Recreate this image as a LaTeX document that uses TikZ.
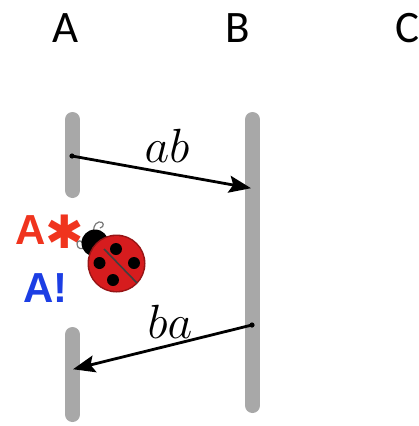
\documentclass[tikz,border=0pt]{standalone}
\usepackage{fix-cm}
\usepackage{fontspec}
\setmainfont{Carlito}
\newfontfamily\boldsans{Liberation Sans}
\newfontfamily\dingfont{DejaVu Sans}
\usetikzlibrary{arrows.meta}
\definecolor{bargray}{RGB}{168,168,168}
\definecolor{tagred}{RGB}{240,52,30}
\definecolor{tagblue}{RGB}{28,62,228}
\definecolor{bugred}{RGB}{214,28,30}
\definecolor{curlgray}{RGB}{120,120,120}
\tikzset{
  lifeline/.style={line width=15pt, line cap=round, draw=bargray},
  party/.style={font=\fontsize{45}{45}\selectfont, anchor=base},
  msg/.style={line width=2.8pt, -{Stealth[length=22pt,width=17pt,inset=4pt]}, shorten >=-1pt},
  msglabel/.style={font=\fontsize{48}{48}\selectfont, anchor=base},
  tag/.style={font=\fontsize{42}{42}\selectfont\boldsans\bfseries, inner sep=0pt, anchor=base west},
  spot/.style={fill=black},
}
\begin{document}
\begin{tikzpicture}[x=1pt,y=-1pt]
  \useasboundingbox (0,0) rectangle (418,426);
  \fill[white] (0,0) rectangle (418,426);

  % party names
  \node[party] (nA) at (66,42) {A};
  \node[party] (nB) at (238,42) {B};
  \node[party, anchor=base west] (nC) at (392,42) {C};

  % lifelines
  \draw[lifeline] (72.5,119.5) coordinate (a1top) -- (72.5,190.5) coordinate (a1bot);
  \draw[lifeline] (252.5,119.5) coordinate (btop) -- (252.5,405.5) coordinate (bbot);
  \draw[lifeline] (72.5,334.5) coordinate (a2top) -- (72.5,414.5) coordinate (a2bot);

  % message end points on the lifelines
  \coordinate (abfrom) at (72,156);
  \coordinate (abto) at (250,188);
  \coordinate (bafrom) at (252,325);
  \coordinate (bato) at (74,369);

  % messages
  \fill (abfrom) circle (2.6pt);
  \draw[msg] (abfrom) -- (abto);
  \node[msglabel] (lab) at (167,162) {$ab$};
  \fill (bafrom) circle (2.6pt);
  \draw[msg] (bafrom) -- (bato);
  \node[msglabel] (lba) at (170,338) {$ba$};

  % tags next to the broken lifeline
  \node[tag, text=tagred] (tagstar) at (15,244)
    {A\raisebox{-4pt}{\dingfont\fontsize{46}{46}\selectfont ✱}};
  \node[tag, text=tagblue] (tagbang) at (23,302) {A!};

  % ladybug
  \begin{scope}
    % antennae
    \draw[curlgray, line width=1.2pt] (95,236) .. controls (92,230) and (94,223) .. (99,222)
      .. controls (104,221) and (105,227) .. (100,228);
    \draw[curlgray, line width=1.2pt] (86,247) .. controls (82,250) and (77,249) .. (77,244)
      .. controls (77,240) and (82,240) .. (82,243);
    % head
    \fill[black] (95,243) circle (13.5pt);
    % body
    \fill[bugred!70!black] (116.5,263.5) circle (29pt);
    \fill[bugred] (116.5,263.5) circle (27.5pt);
    % wing seam
    \draw[black!75, line width=1.6pt] (104,249) -- (137,283);
    % spots
    \fill[spot] (116,249) circle (6pt);
    \fill[spot] (99.5,263) circle (6pt);
    \fill[spot] (134,263) circle (6pt);
    \fill[spot] (113,280) circle (6pt);
  \end{scope}
\end{tikzpicture}
\end{document}
